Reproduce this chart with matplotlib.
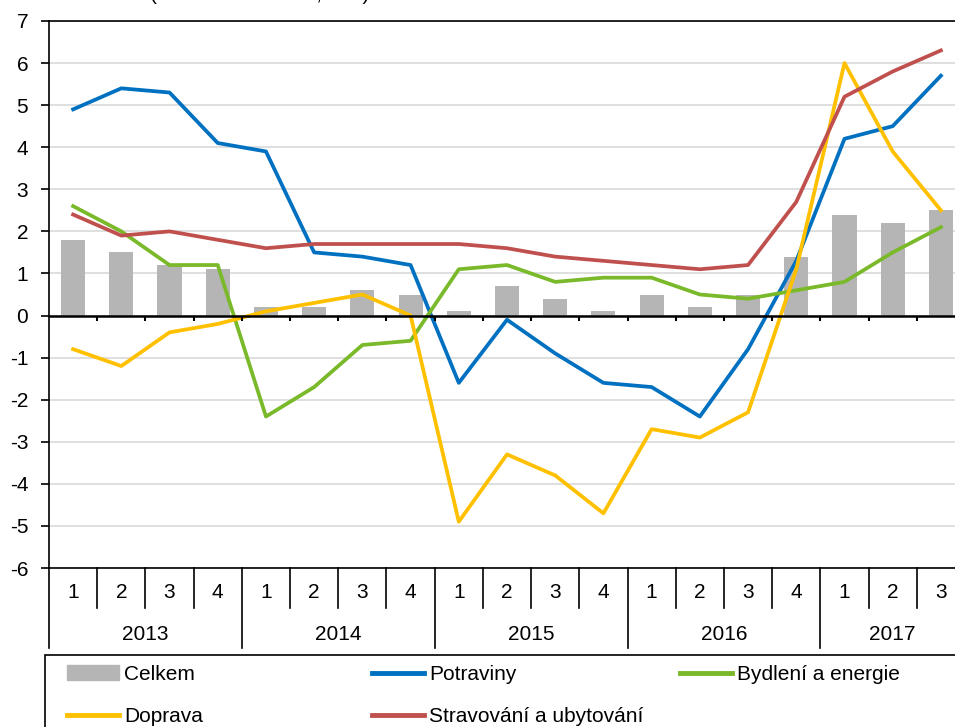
import numpy as np
import matplotlib
matplotlib.use("Agg")
import matplotlib.pyplot as plt
from matplotlib.patches import Rectangle, Patch
from matplotlib.lines import Line2D
import matplotlib.transforms as mtransforms

plt.rcParams['font.family'] = ['Liberation Sans', 'DejaVu Sans']
plt.rcParams['axes.unicode_minus'] = False

# data
years = ['2013', '2014', '2015', '2016', '2017']
quarters = ['1', '2', '3', '4'] * 4 + ['1', '2', '3']
celkem = [1.8, 1.5, 1.2, 1.1, 0.2, 0.2, 0.6, 0.5, 0.1, 0.7, 0.4, 0.1, 0.5, 0.2, 0.5, 1.4, 2.4, 2.2, 2.5]
potraviny = [4.9, 5.4, 5.3, 4.1, 3.9, 1.5, 1.4, 1.2, -1.6, -0.1, -0.9, -1.6, -1.7, -2.4, -0.8, 1.3, 4.2, 4.5, 5.7]
bydleni = [2.6, 2.0, 1.2, 1.2, -2.4, -1.7, -0.7, -0.6, 1.1, 1.2, 0.8, 0.9, 0.9, 0.5, 0.4, 0.6, 0.8, 1.5, 2.1]
doprava = [-0.8, -1.2, -0.4, -0.2, 0.1, 0.3, 0.5, 0.0, -4.9, -3.3, -3.8, -4.7, -2.7, -2.9, -2.3, 1.1, 6.0, 3.9, 2.5]
stravovani = [2.4, 1.9, 2.0, 1.8, 1.6, 1.7, 1.7, 1.7, 1.7, 1.6, 1.4, 1.3, 1.2, 1.1, 1.2, 2.7, 5.2, 5.8, 6.3]

c_gray = '#b5b5b5'
c_blue = '#0070c0'
c_green = '#7ab929'
c_yellow = '#ffc000'
c_red = '#c0504d'
fs = 15

fig = plt.figure(figsize=(9.55, 7.27), dpi=100)
ax = fig.add_axes([49 / 955, 159 / 727, 916 / 955, 547 / 727])

x = np.arange(len(quarters))
ax.bar(x, celkem, width=0.5, color=c_gray, zorder=2)
lw = 2.7
ax.plot(x, potraviny, color=c_blue, lw=lw, zorder=3)
ax.plot(x, bydleni, color=c_green, lw=lw, zorder=3)
ax.plot(x, doprava, color=c_yellow, lw=lw, zorder=3)
ax.plot(x, stravovani, color=c_red, lw=lw, zorder=3)

ax.set_xlim(-0.5, len(quarters) - 0.5)
ax.set_ylim(-6, 7)
ax.set_yticks(range(-6, 8))
ax.yaxis.grid(True, color='#d9d9d9', lw=1.2)
ax.set_axisbelow(True)
ax.tick_params(axis='y', direction='out', length=6, width=1.2, pad=9, labelsize=fs)
ax.set_xticks([])
for s in ['top', 'left', 'bottom']:
    ax.spines[s].set_color('black')
    ax.spines[s].set_linewidth(1.2)
ax.spines['right'].set_visible(False)

# zero line with small ticks between quarters
ax.axhline(0, color='black', lw=1.8, zorder=4)
ax.vlines(np.arange(0.5, len(quarters) - 0.5), 0, -0.14, color='black', lw=1.5, zorder=4)

# category axis below the plot
trans = mtransforms.blended_transform_factory(ax.transData, ax.transAxes)
q_depth = -40 / 547
y_depth = -80 / 547
year_starts = [0, 4, 8, 12, 16]
for b in np.arange(-0.5, len(quarters) - 0.5):
    is_year = (b + 0.5) in year_starts
    ax.plot([b, b], [0, y_depth if is_year else q_depth], transform=trans,
            color='black', lw=1.2, clip_on=False)
for i, q in enumerate(quarters):
    ax.text(i, -24 / 547, q, transform=trans, ha='center', va='center', fontsize=fs)
for k, yr in enumerate(years):
    start = year_starts[k]
    end = min(start + 4, len(quarters))
    ax.text((start + end - 1) / 2, -66 / 547, yr, transform=trans,
            ha='center', va='center', fontsize=fs)

# title, cut by the top edge as in the source image
fig.text(150 / 955, 1.0, '(meziroční změna, v %)', ha='left', va='baseline', fontsize=fs)

# legend box
fig.patches.append(Rectangle((45 / 955, -0.05), 0.96, 1 - 655 / 727 + 0.05,
                             transform=fig.transFigure, fill=False,
                             edgecolor='black', lw=1.2))

cols = [
    ([Patch(color=c_gray), Line2D([], [], color=c_yellow, lw=3.5)], ['Celkem', 'Doprava'], 67),
    ([Line2D([], [], color=c_blue, lw=3.5), Line2D([], [], color=c_red, lw=3.5)],
     ['Potraviny', 'Stravování a ubytování'], 372),
    ([Line2D([], [], color=c_green, lw=3.5)], ['Bydlení a energie'], 680),
]
for handles, labels, xpos in cols:
    leg = fig.legend(handles, labels, loc='upper left',
                     bbox_to_anchor=(xpos / 955, 1 - 665 / 727),
                     frameon=False, fontsize=fs, borderpad=0, borderaxespad=0,
                     handlelength=2.5, handletextpad=0.25, labelspacing=1.1)

fig.savefig('out.png', dpi=100)
